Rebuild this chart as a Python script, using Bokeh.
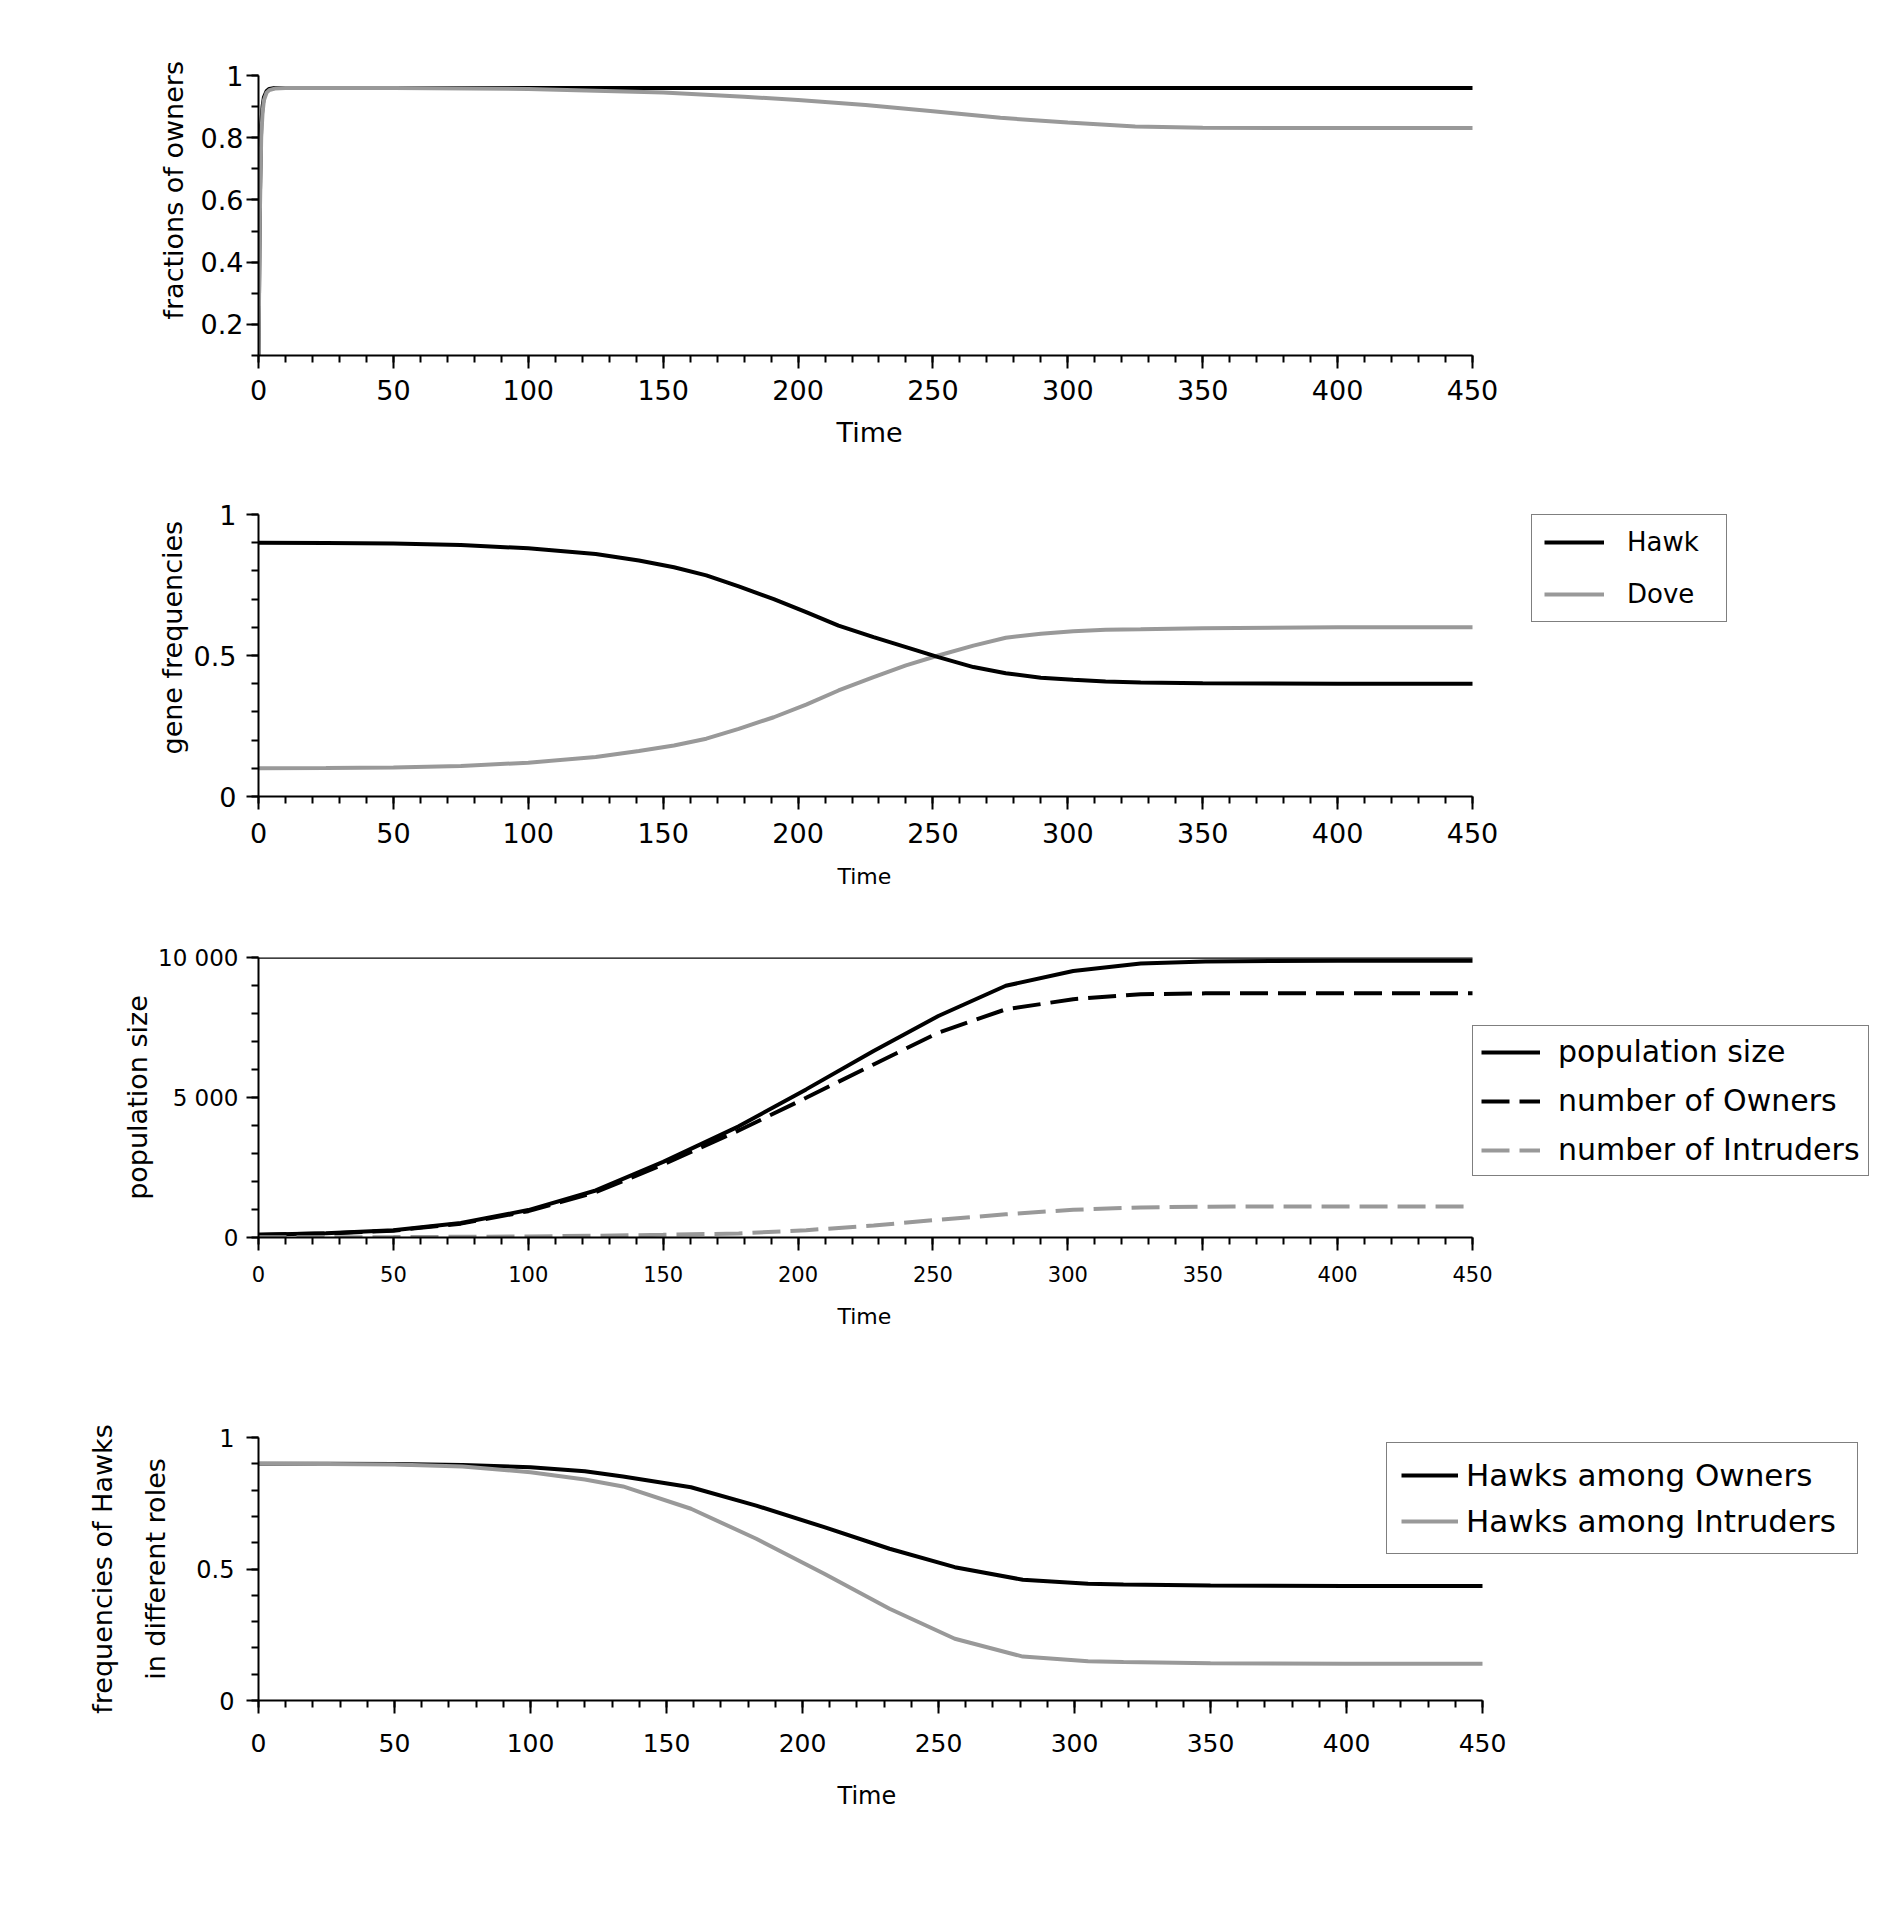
from bokeh.plotting import figure
from bokeh.models import Range1d, FixedTicker, Legend, LegendItem, LinearAxis, Title
from bokeh.layouts import column
from bokeh.embed import file_html
from bokeh.resources import INLINE

# ---------------- data ----------------
x_major = [0, 50, 100, 150, 200, 250, 300, 350, 400, 450]
x_minor = list(range(0, 451, 10))

# panel 1: fractions of owners among Hawks / Doves
t1 = [0, 0.5, 1, 1.5, 2, 3, 4, 6, 10, 50, 100, 150, 180, 200, 225, 250, 275, 300, 325, 350, 400, 450]
owner_frac_hawk = [0.1, 0.6, 0.84, 0.9, 0.93, 0.95, 0.957, 0.96, 0.96, 0.96, 0.96, 0.96, 0.96, 0.96,
                   0.96, 0.96, 0.96, 0.96, 0.96, 0.96, 0.96, 0.96]
owner_frac_dove = [0.1, 0.55, 0.8, 0.88, 0.92, 0.945, 0.953, 0.958, 0.96, 0.96, 0.957, 0.945, 0.932, 0.921,
                   0.905, 0.885, 0.864, 0.849, 0.836, 0.832, 0.831, 0.831]

# panel 2: gene frequencies
t2 = [0, 25, 50, 75, 100, 125, 141, 154, 166, 178, 191, 203, 215, 228, 240, 252, 265, 277, 290, 302,
      314, 327, 350, 400, 450]
gene_hawk = [0.9, 0.899, 0.897, 0.892, 0.88, 0.86, 0.837, 0.813, 0.784, 0.745, 0.70, 0.654, 0.606, 0.565,
             0.53, 0.494, 0.459, 0.437, 0.421, 0.414, 0.408, 0.404, 0.402, 0.4, 0.4]
gene_dove = [0.1, 0.101, 0.103, 0.108, 0.12, 0.14, 0.161, 0.181, 0.205, 0.24, 0.281, 0.326, 0.376, 0.423,
             0.465, 0.5, 0.535, 0.563, 0.577, 0.586, 0.591, 0.593, 0.597, 0.6, 0.6]

# panel 3: population
t3 = [0, 25, 50, 75, 100, 125, 150, 178, 203, 228, 252, 277, 302, 327, 351, 375, 400, 450]
pop_size = [100, 150, 260, 520, 980, 1680, 2700, 3970, 5290, 6660, 7910, 8990, 9520, 9785, 9860, 9875, 9880, 9880]
n_owners = [95, 142, 245, 495, 940, 1620, 2605, 3820, 4990, 6180, 7315, 8150, 8510, 8690, 8720, 8725, 8725, 8725]
n_intruders = [5, 8, 15, 25, 40, 60, 95, 143, 260, 430, 633, 830, 990, 1075, 1100, 1110, 1110, 1110]
capacity = 10000

# panel 4: Hawks in different roles
t4 = [0, 25, 50, 75, 100, 120, 134, 159, 183, 208, 232, 256, 281, 305, 318, 350, 400, 450]
hawk_owners = [0.9, 0.9, 0.899, 0.895, 0.887, 0.872, 0.852, 0.811, 0.741, 0.659, 0.577, 0.507, 0.459,
               0.444, 0.441, 0.437, 0.435, 0.435]
hawk_intruders = [0.9, 0.899, 0.897, 0.89, 0.868, 0.84, 0.814, 0.729, 0.615, 0.482, 0.349, 0.235, 0.167,
                  0.149, 0.146, 0.142, 0.14, 0.14]

BLACK = "#000000"
GRAY = "#999999"
FONT = "DejaVu Sans"
LW = 4
W = 1890
RB = 5  # right border


def make_fig(height, top, bottom, left, plot_w, y_range, ymaj, ymin, yover, tick_fs_x, tick_fs_y,
             xstand, ystand):
    frame_w = W - left - RB
    x_end = x_major[-1] * frame_w / plot_w
    p = figure(width=W, height=height, output_backend="svg", toolbar_location=None,
               x_range=Range1d(x_major[0], x_end), y_range=Range1d(*y_range),
               min_border_top=top, min_border_bottom=bottom, min_border_left=left,
               min_border_right=RB)
    p.grid.visible = False
    p.outline_line_color = None
    xa = p.xaxis[0]
    ya = p.yaxis[0]
    xa.bounds = (x_major[0], x_major[-1])
    xa.ticker = FixedTicker(ticks=x_major, minor_ticks=x_minor)
    ya.ticker = FixedTicker(ticks=ymaj, minor_ticks=ymin)
    ya.major_label_overrides = yover
    for ax in (xa, ya):
        ax.axis_line_width = 2
        ax.axis_line_color = BLACK
        ax.major_tick_line_width = 2
        ax.minor_tick_line_width = 2
        ax.major_tick_line_color = BLACK
        ax.minor_tick_line_color = BLACK
        ax.major_tick_in = 0
        ax.minor_tick_in = 0
        ax.major_label_text_font = FONT
        ax.major_label_text_color = BLACK
        ax.axis_label_text_font = FONT
        ax.axis_label_text_font_style = "normal"
        ax.axis_label_text_color = BLACK
    xa.major_tick_out = 13
    xa.minor_tick_out = 7
    ya.major_tick_out = 12
    ya.minor_tick_out = 7
    xa.major_label_text_font_size = f"{tick_fs_x}px"
    ya.major_label_text_font_size = f"{tick_fs_y}px"
    xa.major_label_standoff = xstand
    ya.major_label_standoff = ystand
    return p


def time_title(p, fs, offset, standoff):
    t = Title(text="Time", align="left", offset=offset, standoff=standoff,
              text_font=FONT, text_font_size=f"{fs}px", text_font_style="normal",
              text_color=BLACK)
    p.add_layout(t, "below")


def y_title(p, text, fs, offset, standoff):
    t = Title(text=text, align="left", offset=offset, standoff=standoff,
              text_font=FONT, text_font_size=f"{fs}px", text_font_style="normal",
              text_color=BLACK)
    p.add_layout(t, "left")


def style_legend(lg, fs, glyph_w, row_h, spacing, padding, standoff, label_w=None):
    lg.label_text_font = FONT
    lg.label_text_font_size = f"{fs}px"
    lg.label_text_color = BLACK
    lg.glyph_width = glyph_w
    lg.glyph_height = row_h
    lg.label_height = row_h
    lg.spacing = spacing
    lg.padding = padding
    lg.label_standoff = standoff
    lg.margin = 0
    lg.border_line_color = BLACK
    lg.border_line_width = 1.5
    lg.background_fill_color = "white"
    lg.background_fill_alpha = 1
    if label_w is not None:
        lg.label_width = label_w


tenths = [round(0.1 * i, 1) for i in range(0, 11)]

# ---------------- panel 1 ----------------
p1 = make_fig(485, 75, 130, 258, 1214, (0.1, 1.0), [0.2, 0.4, 0.6, 0.8, 1.0], tenths[1:],
              {1: "1"}, 27, 27, 11, 3)
y_title(p1, "fractions of owners", 27, 36, 17)
time_title(p1, 27, 578, 25)
p1.line(t1, owner_frac_hawk, line_color=BLACK, line_width=LW)
p1.line(t1, owner_frac_dove, line_color=GRAY, line_width=LW)

# ---------------- panel 2 ----------------
p2 = make_fig(446, 29, 135, 258, 1214, (0.0, 1.0), [0, 0.5, 1], tenths,
              {0: "0", 0.5: "0.5", 1: "1"}, 27, 27, 13, 10)
y_title(p2, "gene frequencies", 27, 42, 5)
time_title(p2, 22, 579, 33)
r_dove = p2.line(t2, gene_dove, line_color=GRAY, line_width=LW)
r_hawk = p2.line(t2, gene_hawk, line_color=BLACK, line_width=LW)
lg2 = Legend(items=[LegendItem(label="Hawk", renderers=[r_hawk]),
                    LegendItem(label="Dove", renderers=[r_dove])],
             location=(1273, 174))
style_legend(lg2, 26, 60, 30, 22, 12, 23, 87)
p2.add_layout(lg2)

# ---------------- panel 3 ----------------
p3 = make_fig(446, 26, 140, 258, 1214, (0, 10000), [0, 5000, 10000], list(range(0, 10001, 1000)),
              {0: "0", 5000: "5 000", 10000: "10 000"}, 21, 23, 15, 8)
p3.yaxis[0].axis_label = "population size"
p3.yaxis[0].axis_label_text_font_size = "27px"
p3.yaxis[0].axis_label_standoff = 2
time_title(p3, 22, 579, 35)
p3.line([t3[0], t3[-1]], [capacity, capacity], line_color=BLACK, line_width=2.5)
r_pop = p3.line(t3, pop_size, line_color=BLACK, line_width=LW)
r_own = p3.line(t3, n_owners, line_color=BLACK, line_width=LW, line_dash="28 10")
r_int = p3.line(t3, n_intruders, line_color=GRAY, line_width=LW, line_dash="28 10")
lg3 = Legend(items=[LegendItem(label="population size", renderers=[r_pop]),
                    LegendItem(label="number of Owners", renderers=[r_own]),
                    LegendItem(label="number of Intruders", renderers=[r_int])],
             location=(1214, 61))
style_legend(lg3, 30, 59, 34, 14, 8, 18)
p3.add_layout(lg3)

# ---------------- panel 4 ----------------
p4 = make_fig(473, 60, 150, 254, 1227, (0.0, 1.0), [0, 0.5, 1], tenths,
              {0: "0", 0.5: "0.5", 1: "1"}, 25, 24, 20, 12)
p4.yaxis[0].axis_label = "in different roles"
p4.yaxis[0].axis_label_text_font_size = "27px"
p4.yaxis[0].axis_label_standoff = 22
ya2 = LinearAxis(ticker=FixedTicker(ticks=[]), axis_line_color=None,
                 major_tick_line_color=None, minor_tick_line_color=None,
                 axis_label="frequencies of Hawks", axis_label_text_font=FONT,
                 axis_label_text_color=BLACK,
                 axis_label_text_font_style="normal", axis_label_text_font_size="27px",
                 axis_label_standoff=20)
p4.add_layout(ya2, "left")
time_title(p4, 24, 579, 51)
r_ho = p4.line(t4, hawk_owners, line_color=BLACK, line_width=LW)
r_hi = p4.line(t4, hawk_intruders, line_color=GRAY, line_width=LW)
lg4 = Legend(items=[LegendItem(label="Hawks among Owners", renderers=[r_ho]),
                    LegendItem(label="Hawks among Intruders", renderers=[r_hi])],
             location=(1128, 146))
style_legend(lg4, 31, 57, 36, 10, 14, 8, 377)
p4.add_layout(lg4)

layout = column(p1, p2, p3, p4, spacing=0)
open("out.html", "w").write(file_html(layout, INLINE))
